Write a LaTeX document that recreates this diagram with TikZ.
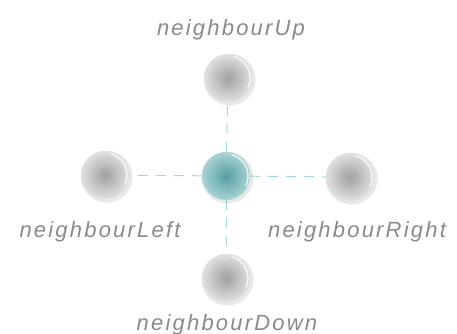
\documentclass[tikz,border=0pt]{standalone}
\usepackage{fontspec}
\setmainfont{Liberation Sans}
\newfontfamily\lblfont[LetterSpace=10]{Liberation Sans}
\usetikzlibrary{shadows,backgrounds}
\definecolor{lblgray}{HTML}{8A8A8A}
\definecolor{dashcol}{HTML}{A2DADA}
\definecolor{ballin}{HTML}{A0A0A0}
\definecolor{ballout}{HTML}{E0E0E0}
\definecolor{tealin}{HTML}{55A0A2}
\definecolor{tealout}{HTML}{AAD3D4}
\tikzset{
  ball/.style={circle, minimum size=48pt, inner sep=0pt, shade, inner color=ballin, outer color=ballout,
    drop shadow={opacity=0.18, shadow xshift=1.5pt, shadow yshift=-1.5pt, shadow scale=1.08}},
  tealball/.style={ball, inner color=tealin, outer color=tealout},
  lbl/.style={text=lblgray, font=\lblfont\itshape\fontsize{22}{25}\selectfont, inner sep=0pt, anchor=base},
  link/.style={draw=dashcol, line width=1pt, dash pattern=on 10pt off 8pt},
  rim/.style={draw=white, line width=1.2pt, line cap=round, opacity=0.9}
}
\begin{document}
\begin{tikzpicture}[x=1pt,y=-1pt]
\useasboundingbox (0,0) rectangle (457,334);
\node[tealball] (c) at (226,176) {};
\node[ball] (u) at (228,78) {};
\node[ball] (l) at (105,175) {};
\node[ball] (r) at (350,177) {};
\node[ball] (d) at (226,278) {};
\foreach \n in {c,u,l,r,d}{
  \draw[rim] ([shift={(-75:22)}]\n.center) arc[start angle=-75, end angle=25, radius=22];
}
\begin{scope}[on background layer]
\draw[link] (c) -- (u);
\draw[link] (c) -- (l);
\draw[link] (c) -- (r);
\draw[link] (c) -- (d);
\end{scope}
\node[lbl] (tu) at (231,36) {neighbourUp};
\node[lbl] (tl) at (100,237) {neighbourLeft};
\node[lbl] (tr) at (357,237) {neighbourRight};
\node[lbl] (td) at (227,330) {neighbourDown};
\end{tikzpicture}
\end{document}
